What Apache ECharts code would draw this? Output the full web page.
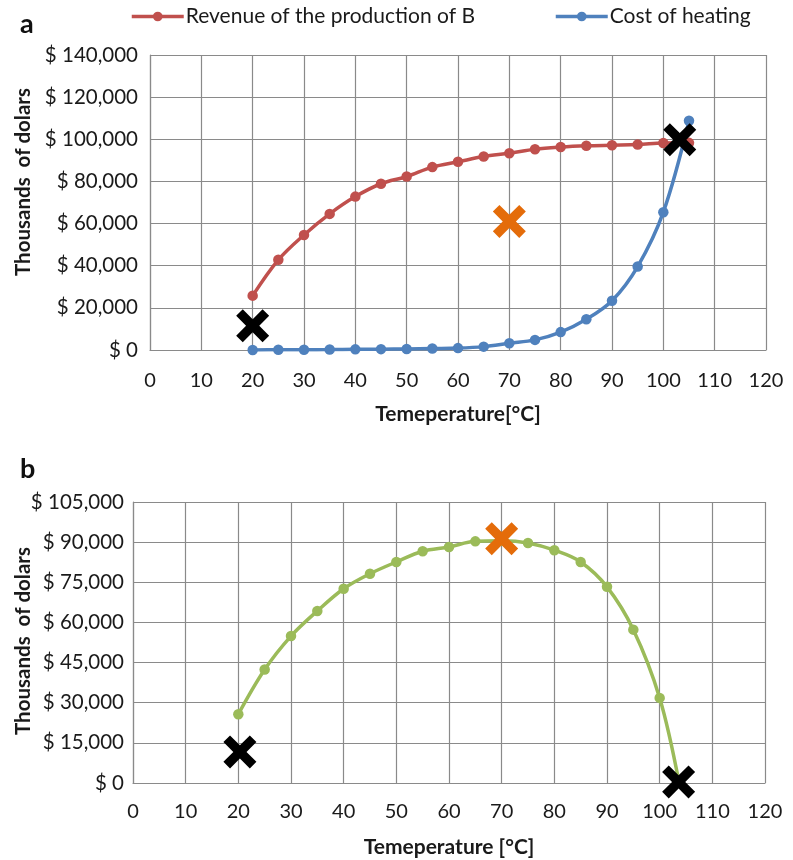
<!DOCTYPE html>
<html>
<head>
<meta charset="utf-8">
<script src="https://cdn.jsdelivr.net/npm/echarts@6/dist/echarts.min.js"></script>
<style>
html,body{margin:0;padding:0;background:#fff;}
#chart{width:793px;height:860px;}
</style>
</head>
<body>
<div id="chart"></div>
<script>
// ---- data ----
const temps = [20,25,30,35,40,45,50,55,60,65,70,75,80,85,90,95,100,105];
const revenue = [25800,42800,54600,64600,72800,78900,82300,86800,89300,91800,93400,95300,96300,96900,97200,97500,98200,98300];
const cost = [0,100,150,200,300,400,500,700,900,1600,3200,4800,8500,14600,23400,39600,65400,108800];
const profitTemps = [20,25,30,35,40,45,50,55,60,65,70,75,80,85,90,95,100,103.7];
const profit = [25700,42400,54900,64300,72600,78200,82600,86600,88200,90300,90500,89700,87000,82600,73300,57300,31800,0];
const xTicksTop = [0,120,10];
const xTicksBottom = [0,120,10];
const yTicksTop = [0,140000,20000];
const yTicksBottom = [0,105000,15000];
// markers (X): [temperature, value]
const blackMarksTop = [[20,11500],[103.2,99800]];
const orangeMarksTop = [[70,61000]];
const blackMarksBottom = [[20.3,11600],[103.6,400]];
const orangeMarksBottom = [[70,91300]];
const legendNames = ['Revenue of the production of B','Cost of heating'];

const FONT = 'Lato, "Liberation Sans", sans-serif';
const GRIDC = '#8a8a8a';
const TXT = '#1a1a1a';
const XPATH = 'path://M0,2 L2,0 L5,3 L8,0 L10,2 L7,5 L10,8 L8,10 L5,7 L2,10 L0,8 L3,5 Z';

function money(v){ return '$ ' + v.toLocaleString('en-US'); }
function pairs(xs, ys){ return xs.map((x,i)=>[x, ys[i]]); }

function xAxisCfg(gridIndex, ticks, name, margin){
  return {
    type:'value', gridIndex, min:ticks[0], max:ticks[1], interval:ticks[2],
    name, nameLocation:'middle', nameGap:54,
    nameTextStyle:{fontFamily:FONT, fontWeight:'bold', fontSize:21, color:TXT, verticalAlign:'top'},
    axisLine:{show:true, onZero:false, lineStyle:{color:GRIDC, width:1.2}},
    axisTick:{show:false},
    axisLabel:{margin, fontFamily:FONT, fontSize:20, color:TXT},
    splitLine:{show:true, lineStyle:{color:GRIDC, width:1.2}}
  };
}
function yAxisCfg(gridIndex, ticks, margin){
  return {
    type:'value', gridIndex, min:ticks[0], max:ticks[1], interval:ticks[2],
    axisLine:{show:true, lineStyle:{color:GRIDC, width:1.2}},
    axisTick:{show:false},
    axisLabel:{margin, fontFamily:FONT, fontSize:20.5, color:TXT, formatter:money},
    splitLine:{show:true, lineStyle:{color:GRIDC, width:1.2}}
  };
}
function lineSeries(name, idx, data, color){
  return {
    name, type:'line', xAxisIndex:idx, yAxisIndex:idx, data, smooth:0.35,
    symbol:'circle', symbolSize:10.5, showSymbol:true,
    lineStyle:{color, width:3.5}, itemStyle:{color}, z:3
  };
}
function xSeries(idx, data, color){
  return {
    type:'scatter', xAxisIndex:idx, yAxisIndex:idx, data, symbol:XPATH, symbolSize:33,
    itemStyle:{color, opacity:1}, z:5, silent:true
  };
}

const profitData = pairs(profitTemps, profit).map((p,i)=> i===profit.length-1 ? {value:p, symbol:'none'} : p);

const legendCommon = {
  itemWidth:52, itemHeight:12, itemGap:0, padding:0,
  lineStyle:{width:3.5},
  textStyle:{fontFamily:FONT, fontSize:21, color:TXT, padding:[0,0,0,-3]}
};

const option = {
  animation:false,
  backgroundColor:'#ffffff',
  title:[
    {text:'a', left:15, top:6, textStyle:{fontFamily:FONT, fontWeight:'bold', fontSize:27, color:'#111'}},
    {text:'b', left:15, top:451, textStyle:{fontFamily:FONT, fontWeight:'bold', fontSize:27, color:'#111'}}
  ],
  legend:[
    Object.assign({data:[legendNames[0]], left:130, top:6}, legendCommon),
    Object.assign({data:[legendNames[1]], left:554, top:6}, legendCommon)
  ],
  grid:[
    {left:150, top:55, width:616, height:295, containLabel:false},
    {left:133, top:502, width:632, height:281, containLabel:false}
  ],
  xAxis:[
    xAxisCfg(0, xTicksTop, 'Temeperature[°C]', 21),
    xAxisCfg(1, xTicksBottom, 'Temeperature [°C]', 19)
  ],
  yAxis:[
    yAxisCfg(0, yTicksTop, 12),
    yAxisCfg(1, yTicksBottom, 9)
  ],
  graphic:[
    {type:'text', x:23, y:182, rotation:Math.PI/2,
     style:{text:'Thousands  of dolars', fontFamily:FONT, fontWeight:'bold', fontSize:20.5, fill:TXT, align:'center', verticalAlign:'middle'}},
    {type:'text', x:23, y:641, rotation:Math.PI/2,
     style:{text:'Thousands  of dolars', fontFamily:FONT, fontWeight:'bold', fontSize:20.5, fill:TXT, align:'center', verticalAlign:'middle'}}
  ],
  series:[
    lineSeries(legendNames[0], 0, pairs(temps, revenue), '#C0504D'),
    lineSeries(legendNames[1], 0, pairs(temps, cost), '#4F81BD'),
    xSeries(0, blackMarksTop, '#000000'),
    xSeries(0, orangeMarksTop, '#E46C0A'),
    lineSeries('Profit', 1, profitData, '#9BBB59'),
    xSeries(1, blackMarksBottom, '#000000'),
    xSeries(1, orangeMarksBottom, '#E46C0A')
  ]
};
const chart = echarts.init(document.getElementById('chart'), null, {renderer:'canvas'});
chart.setOption(option);
</script>
</body>
</html>
